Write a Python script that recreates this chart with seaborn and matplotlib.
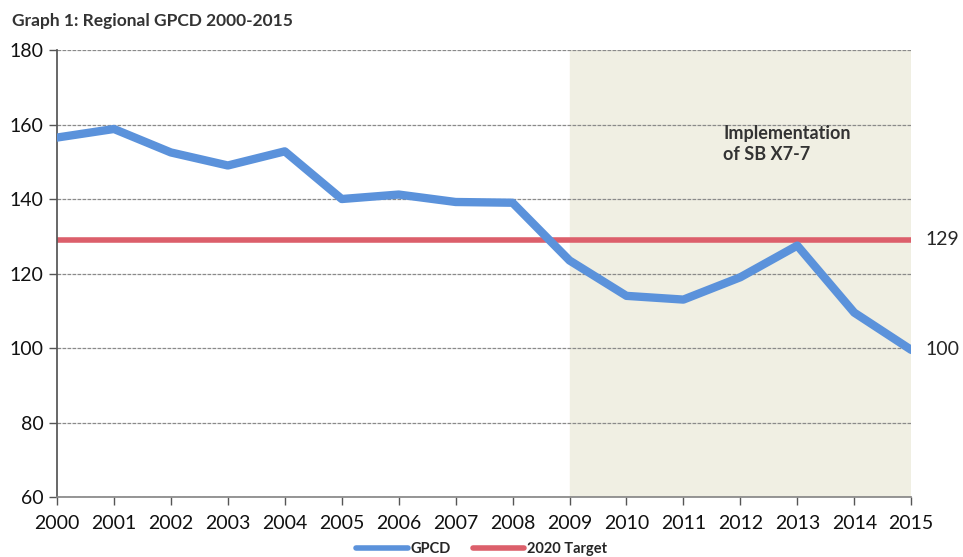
import seaborn as sns
import pandas as pd
import matplotlib.pyplot as plt

years = list(range(2000, 2016))
gpcd = [156.5, 158.8, 152.5, 149, 152.8, 140, 141.2, 139.2, 139, 123.5, 114, 113, 119, 127.5, 109.5, 99.5]
target = 129
shade_start, shade_end = 2009, 2015

sns.set_theme(style="white")
plt.rcParams['font.family'] = ['Lato', 'DejaVu Sans']

df = pd.DataFrame({"year": years, "GPCD": gpcd, "2020 Target": [target] * len(years)})
long_df = df.melt(id_vars="year", var_name="series", value_name="value")

fig = plt.figure(figsize=(9.63, 5.57), dpi=100)
ax = fig.add_axes([0.0592, 0.1077, 0.887, 0.8025])

ax.axvspan(shade_start, shade_end, color="#f0efe3", zorder=0)

sns.lineplot(data=long_df, x="year", y="value", hue="series",
             palette={"GPCD": "#5b92db", "2020 Target": "#dc5f6b"},
             ax=ax, legend=False, sort=False)
ax.lines[0].set_linewidth(6)
ax.lines[1].set_linewidth(4)
ax.lines[0].set_zorder(3)
ax.lines[1].set_zorder(2)

ax.set_xlim(2000, 2015)
ax.set_ylim(60, 180)
ax.set_xticks(years)
ax.set_yticks(range(60, 181, 20))
ax.tick_params(axis="both", labelsize=14, direction="out", length=6, width=1,
               bottom=True, left=True, colors="#555555", labelcolor="#111111")
ax.tick_params(axis="x", pad=7)
ax.yaxis.grid(True, linestyle=(0, (3, 1)), color="#8a8a8a", linewidth=0.9)
ax.set_xlabel("")
ax.set_ylabel("")
sns.despine(ax=ax, top=True, right=True)
ax.spines["left"].set_color("#555555")
ax.spines["bottom"].set_color("#888888")

ax.text(2015.25, target, "129", fontsize=14, va="center", ha="left")
ax.text(2015.25, gpcd[-1], "100", fontsize=14, va="center", ha="left")
ax.text(2011.7, 160, "Implementation\nof SB X7-7", fontsize=13, fontweight="bold",
        color="#333333", va="top", ha="left", linespacing=1.3)

fig.text(0.012, 0.963, "Graph 1: Regional GPCD 2000-2015", fontsize=12.5, fontweight="bold",
         color="#333333", va="center", ha="left")

handles = [plt.Line2D([], [], color="#5b92db", lw=4), plt.Line2D([], [], color="#dc5f6b", lw=4)]
fig.legend(handles, ["GPCD", "2020 Target"], loc="center", bbox_to_anchor=(0.5, 0.015), ncol=2,
           frameon=False, handlelength=3.5, handletextpad=0.2, columnspacing=1.5,
           prop={"size": 10.5, "weight": "bold"})

fig.savefig("out.png", dpi=100)
